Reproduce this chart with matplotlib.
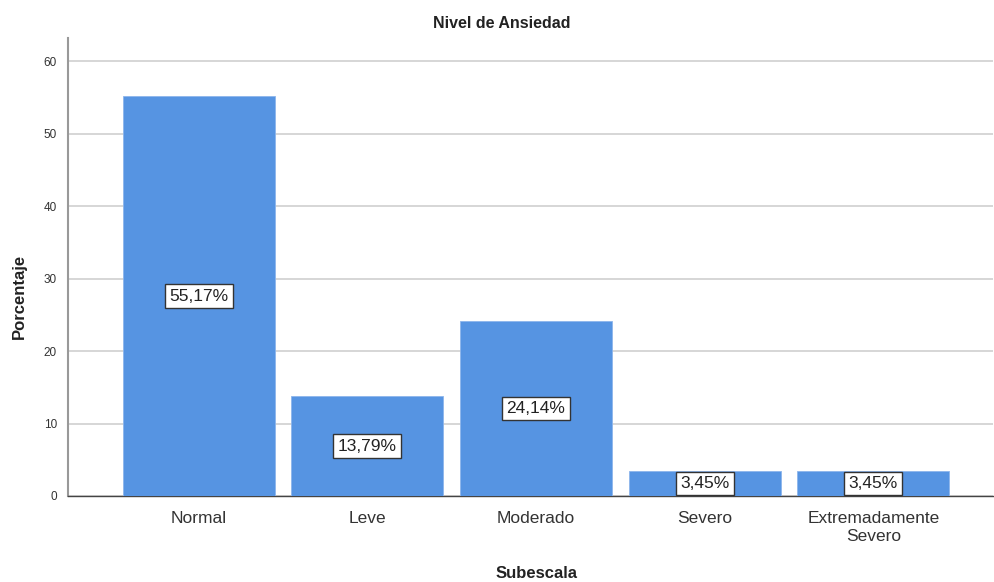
import matplotlib.pyplot as plt

plt.rcParams['font.family'] = ['Liberation Sans', 'DejaVu Sans']

categorias = ["Normal", "Leve", "Moderado", "Severo", "Extremadamente\nSevero"]
porcentajes = [55.17, 13.79, 24.14, 3.45, 3.45]
etiquetas = ["55,17%", "13,79%", "24,14%", "3,45%", "3,45%"]

fig = plt.figure(figsize=(9.94, 5.82), dpi=100)
ax = fig.add_axes([0.0684, 0.1478, 0.9306, 0.7869])

x = list(range(len(categorias)))
bars = ax.bar(x, porcentajes, width=0.9, color="#5694E2", edgecolor="#8DB5EC",
              linewidth=0.6, zorder=3)

for xi, v, lab in zip(x, porcentajes, etiquetas):
    ax.text(xi, v / 2, lab, ha="center", va="center", fontsize=12.5, color="#222222",
            zorder=4,
            bbox=dict(boxstyle="square,pad=0.25", facecolor="white",
                      edgecolor="#333333", linewidth=1))

ax.set_xlim(-0.775, 4.71)
ax.set_ylim(0, 63.2)
ax.set_yticks([0, 10, 20, 30, 40, 50, 60])
ax.set_xticks(x)
ax.set_xticklabels(categorias, fontsize=12.5, color="#333333", linespacing=1.2)
ax.tick_params(axis="y", length=0, labelsize=8.5, pad=8, labelcolor="#333333")
ax.tick_params(axis="x", length=0, pad=11)
ax.grid(axis="y", color="#D0D0D0", linewidth=1.2, zorder=0)

for s in ["top", "right"]:
    ax.spines[s].set_visible(False)
ax.spines["left"].set_color("#999999")
ax.spines["left"].set_linewidth(1.5)
ax.spines["bottom"].set_color("#444444")
ax.spines["bottom"].set_linewidth(1)

fig.text(0.505, 0.96, "Nivel de Ansiedad", ha="center", va="center",
         fontsize=11.5, fontweight="bold", color="#222222")
fig.text(0.54, 0.015, "Subescala", ha="center", va="center",
         fontsize=12, fontweight="bold", color="#222222")
fig.text(0.019, 0.49, "Porcentaje", ha="center", va="center", rotation=90,
         fontsize=12, fontweight="bold", color="#222222")

fig.savefig("out.png", dpi=100)
